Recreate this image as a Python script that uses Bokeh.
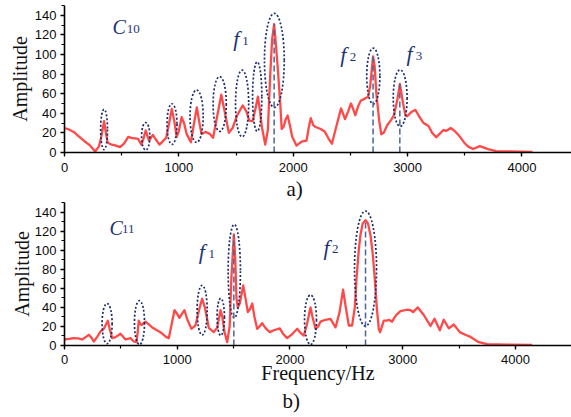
from bokeh.plotting import figure
from bokeh.models import SingleIntervalTicker, Range1d, Label, ColumnDataSource, Title
from bokeh.layouts import column
from bokeh.embed import file_html
from bokeh.resources import INLINE

# ---------------- data: panel a) C10 ----------------
freq_a = [0, 40, 80, 130, 170, 225, 268, 300, 320, 346, 365, 378, 413, 450, 485, 520, 557, 586, 643, 672,
          690, 710, 728, 739, 773, 800, 831, 889, 915, 938, 960, 981, 1000, 1024, 1045, 1068, 1105, 1130,
          1157, 1180, 1198, 1235, 1270, 1299, 1340, 1371, 1400, 1437, 1470, 1510, 1558, 1590, 1616, 1645,
          1670, 1691, 1710, 1726, 1755, 1778, 1798, 1815, 1833, 1850, 1864, 1885, 1899, 1915, 1935, 1951,
          1970, 1991, 2029, 2072, 2116, 2135, 2153, 2175, 2196, 2240, 2274, 2310, 2338, 2380, 2418, 2435,
          2453, 2480, 2505, 2525, 2543, 2570, 2592, 2626, 2655, 2673, 2698, 2712, 2727, 2751, 2770, 2790,
          2823, 2855, 2880, 2909, 2932, 2961, 2981, 2996, 3030, 3068, 3100, 3140, 3183, 3215, 3250, 3280,
          3313, 3336, 3377, 3420, 3458, 3495, 3530, 3573, 3631, 3703, 3775, 3890, 4092]
amp_a = [25, 23.5, 21, 16, 12, 7, 1, 6, 15, 32, 18, 10, 8, 7, 5.5, 9, 16, 15, 14, 8,
         14, 22.5, 16, 12, 18, 13, 8, 15, 30, 44.5, 32, 16, 22, 36, 30, 19, 10.5, 28,
         46, 30, 19, 21, 19, 15, 40, 59, 42, 20, 25, 38, 48, 42, 32.5, 32,
         45, 57, 42, 26, 8, 23, 77, 115, 131, 108, 87, 53, 24, 26, 34, 37.7,
         28, 16, 7, 11, 12, 25, 35, 28, 26, 24, 21.5, 14, 9, 28, 45, 40,
         34, 42, 50, 44, 38, 48, 53, 55, 57, 68, 98, 88, 60, 33, 18.5, 20,
         28, 33, 38, 53, 70, 49.7, 38, 37, 41, 43.5, 37, 30, 27, 20, 15.5, 19,
         23, 22, 25, 21, 16, 10, 6, 3.5, 6.5, 3.5, 1.5, 1, 0.5]

ell_a_x = [346, 710, 940, 1155, 1357, 1553, 1685, 1835, 2700, 2935]
ell_a_y = [23.5, 16.5, 29, 37, 49.5, 50, 57, 94, 78, 55.5]
ell_a_w = [60, 72, 87, 115, 115, 115, 81, 173, 115, 121]
ell_a_h = [41, 28, 41.5, 53.5, 56, 68, 71, 96, 57, 58]

mark_a_x = [1833, 2698, 2932]
mark_a_top = [131, 98, 70]

# ---------------- data: panel b) C11 ----------------
freq_b = [0, 40, 83, 120, 157, 190, 216, 240, 260, 290, 319, 349, 368, 384, 400, 423, 453, 497, 541, 585,
          615, 639, 650, 659, 670, 683, 718, 750, 778, 851, 900, 925, 950, 976, 1000, 1020, 1040, 1064,
          1090, 1126, 1162, 1195, 1221, 1245, 1280, 1324, 1354, 1384, 1400, 1419, 1443, 1465, 1480, 1502,
          1515, 1525, 1537, 1555, 1585, 1605, 1626, 1645, 1665, 1685, 1709, 1730, 1753, 1785, 1821, 1857,
          1910, 1940, 1975, 2020, 2064, 2095, 2123, 2150, 2182, 2200, 2226, 2250, 2270, 2315, 2359, 2404,
          2440, 2471, 2495, 2522, 2551, 2575, 2590, 2610, 2625, 2645, 2670, 2692, 2714, 2735, 2752, 2770,
          2788, 2800, 2832, 2855, 2877, 2906, 2930, 2951, 2980, 3039, 3070, 3092, 3134, 3160, 3187, 3246,
          3282, 3329, 3364, 3409, 3453, 3506, 3560, 3601, 3640, 3675, 3749, 3926, 4148]
amp_b = [6.3, 7, 7.7, 7.5, 6.3, 9, 11.2, 8, 4.2, 9, 14.7, 17.5, 22, 26, 18, 7.7, 8.8, 12.3, 6.3, 7.7,
         4.2, 3.5, 15, 26, 23, 21.5, 25, 22, 19, 14, 9, 7.7, 22, 37, 33, 29, 33, 37,
         27, 17.5, 21, 38, 49, 40, 18.6, 14, 18.6, 37, 30, 14, 3.5, 20, 70, 116.5,
         90, 50, 40, 44, 63, 50, 35, 38, 44, 30, 17.5, 20, 23.5, 18, 14, 16,
         18, 12, 7.7, 12, 17.5, 13, 10.5, 22, 40, 30, 17.5, 20, 25, 27, 28, 19,
         35, 58.6, 40, 21, 21, 40, 70, 100, 116, 128, 131.5, 128, 116, 95, 70, 40,
         17, 14, 26, 26, 27, 25, 30, 33, 36, 37.5, 37, 35, 40, 36, 32, 20.5,
         28, 16, 27, 18, 22, 14, 11, 9, 6, 3.5, 1.4, 1, 0.5]

ell_b_x = [378, 665, 1221, 1386, 1506, 2182, 2670]
ell_b_y = [23, 24, 37, 30, 78, 27, 80.7]
ell_b_w = [89, 89, 89, 65, 109, 106, 195]
ell_b_h = [42, 46, 52, 39, 98, 52, 120.7]

mark_b_x = [1502, 2670]
mark_b_top = [116, 131]

x_ticks_interval = 1000
y_ticks_interval = 20

RED = "#ff3535"
NAVY = "#1b2c6b"
DASH = "#4d6496"
TXT = "#1f3474"
SERIF = "Liberation Serif"
SANS = "Liberation Sans"


def make_panel(freq, amp, ex, ey, ew, eh, mx, mtop, x_end, y_end, width, height,
               border_left, border_top, border_bottom, tick_standoff, label_standoff):
    p = figure(width=width, height=height, output_backend="svg", toolbar_location=None,
               x_range=Range1d(0, x_end), y_range=Range1d(0, y_end),
               min_border_left=border_left, min_border_right=0,
               min_border_top=border_top, min_border_bottom=border_bottom)
    p.outline_line_color = None
    p.grid.visible = False
    p.background_fill_color = "white"
    p.border_fill_color = "white"

    p.xaxis.ticker = SingleIntervalTicker(interval=x_ticks_interval, num_minor_ticks=2)
    p.yaxis.ticker = SingleIntervalTicker(interval=y_ticks_interval, num_minor_ticks=2)
    for ax in (p.xaxis, p.yaxis):
        ax.axis_line_width = 1.6
        ax.axis_line_color = "black"
        ax.major_tick_line_color = "black"
        ax.minor_tick_line_color = "black"
        ax.major_tick_line_width = 1.3
        ax.minor_tick_line_width = 1.2
        ax.major_tick_in = 0
        ax.major_tick_out = 4
        ax.minor_tick_in = 0
        ax.minor_tick_out = 3
        ax.major_label_text_font = SANS
        ax.major_label_text_font_size = "13px"
        ax.major_label_text_color = "#0a0a0a"
        ax.major_label_standoff = 4
        ax.axis_label_text_font = SERIF
        ax.axis_label_text_font_style = "normal"
        ax.axis_label_text_font_size = "20px"
        ax.axis_label_text_color = "#111111"
    p.xaxis.major_label_standoff = tick_standoff
    p.yaxis.axis_label = "Amplitude"
    p.yaxis.axis_label_standoff = label_standoff

    src = ColumnDataSource(dict(x=freq, y=amp))
    p.line("x", "y", source=src, line_color=RED, line_width=2.3, line_alpha=0.9,
           line_join="round")
    p.ellipse(x=ex, y=ey, width=ew, height=eh, fill_color=None, line_color=NAVY,
              line_width=1.7, line_dash="2 2")
    p.segment(x0=mx, y0=[0] * len(mx), x1=mx, y1=mtop, line_color=DASH,
              line_width=1.5, line_dash="6 3")
    return p


def sym(p, x, y, main, sub, xs, ys, size="22px"):
    p.add_layout(Label(x=x, y=y, text=main, text_font=SERIF, text_font_style="italic",
                       text_font_size=size, text_color=TXT, text_baseline="alphabetic"))
    p.add_layout(Label(x=xs, y=ys, text=sub, text_font=SERIF, text_font_style="normal",
                       text_font_size="13px", text_color=TXT, text_baseline="alphabetic"))


# top panel
pa = make_panel(freq_a, amp_a, ell_a_x, ell_a_y, ell_a_w, ell_a_h, mark_a_x, mark_a_top,
                4433, 150, 571, 201, 59, 5, 49, 6, 1)
sym(pa, 420, 127.9, "C", "10", 545, 126.2, size="20px")
sym(pa, 1475, 116.7, "f", "1", 1555, 113.6)
sym(pa, 2410, 100.4, "f", "2", 2495, 97.2)
sym(pa, 2990, 101.4, "f", "3", 3072, 98.5)
pa.add_layout(Title(text="a)", align="left", offset=222, standoff=0, text_font=SERIF,
                    text_font_size="21px", text_font_style="normal", text_color="#111111"), "below")

# bottom panel
pb = make_panel(freq_b, amp_b, ell_b_x, ell_b_y, ell_b_w, ell_b_h, mark_b_x, mark_b_top,
                4497, 150, 571, 216, 64, 1, 72, 5, -1)
pb.xaxis.axis_label = "Frequency/Hz"
pb.xaxis.axis_label_standoff = -5
sym(pb, 400, 123.5, "C", "11", 510, 122, size="20px")
sym(pb, 1190, 99, "f", "1", 1277, 96.5)
sym(pb, 2298, 102.5, "f", "2", 2372, 101)
pb.add_layout(Title(text="b)", align="left", offset=218, standoff=0, text_font=SERIF,
                    text_font_size="21px", text_font_style="normal", text_color="#111111"), "below")

layout = column(pa, pb, spacing=0)
open("out.html", "w").write(file_html(layout, INLINE))
